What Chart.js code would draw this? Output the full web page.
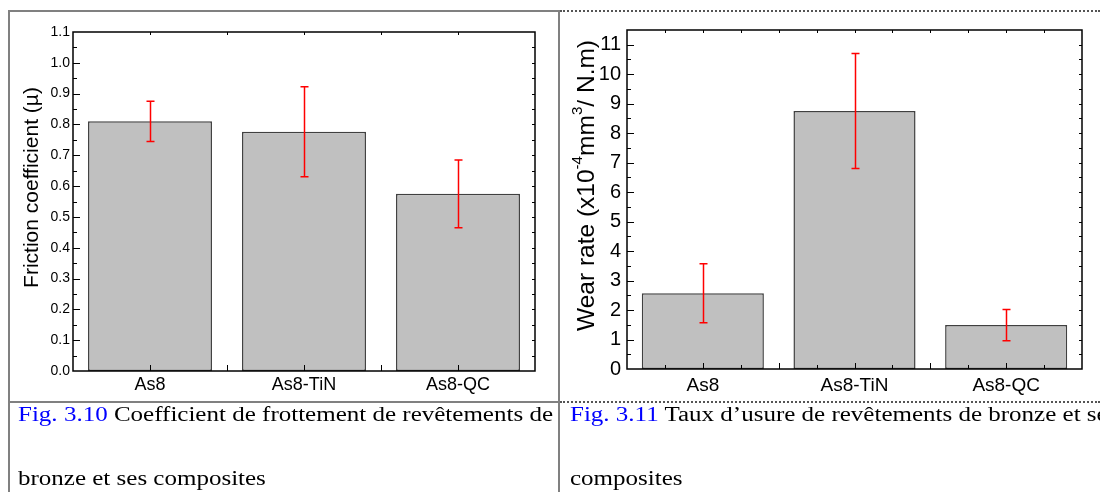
<!DOCTYPE html>
<html>
<head>
<meta charset="utf-8">
<script src="https://cdn.jsdelivr.net/npm/chart.js@4.4.1/dist/chart.umd.min.js"></script>
<style>
html, body { margin: 0; padding: 0; background: #fff; }
body { width: 1100px; height: 492px; position: relative; overflow: hidden; }
.ln { position: absolute; background: #808080; }
.dot { position: absolute; height: 0; border-top: 2px dotted #555; }
.box { position: absolute; }
.cap { position: absolute; font-family: 'Liberation Serif', 'Times New Roman', serif; font-size: 20px;
       line-height: 64px; color: #000; transform: scaleX(1.25); transform-origin: 0 0; text-align: justify; }
.cap span { color: #0000ff; }
</style>
</head>
<body>
<div class="ln" style="left:8px;top:10px;width:2px;height:482px"></div>
<div class="ln" style="left:8px;top:10px;width:551px;height:2px"></div>
<div class="ln" style="left:558px;top:10px;width:2px;height:482px"></div>
<div class="dot" style="left:560px;top:10px;width:540px"></div>
<div class="ln" style="left:8px;top:401px;width:551px;height:2px"></div>
<div class="dot" style="left:560px;top:401px;width:540px"></div>

<div class="box" style="left:10px;top:12px;width:548px;height:389px"><canvas id="friction-chart"></canvas></div>
<div class="box" style="left:561px;top:12px;width:539px;height:389px"><canvas id="wear-chart"></canvas></div>

<div class="cap" style="left:18px;top:382px;width:428px"><span>Fig. 3.10</span> Coefficient de frottement de revêtements de bronze et ses composites</div>
<div class="cap" style="left:570px;top:382px;white-space:nowrap"><span>Fig. 3.11</span> Taux d’usure de revêtements de bronze et ses<br>composites</div>

<script>
const categories = ['As8', 'As8-TiN', 'As8-QC'];

const frictionValues = [0.81, 0.776, 0.575];
const frictionErrors = [0.065, 0.146, 0.11];

const wearValues = [2.57, 8.75, 1.49];
const wearErrors = [1.0, 1.95, 0.53];

Chart.defaults.font.family = "'Liberation Sans', Arial, sans-serif";
Chart.defaults.color = '#000';

// error bars, frame box and inward ticks
const framePlugin = {
    id: 'frame',
    afterDatasetsDraw(chart, args, o) {
        const { ctx, chartArea: a, scales: { x, y } } = chart;
        const meta = chart.getDatasetMeta(0);
        const ds = chart.data.datasets[0];

        ctx.save();
        ctx.strokeStyle = '#ff0000';
        ctx.lineWidth = 1.5;
        meta.data.forEach((bar, i) => {
            const v = ds.data[i], e = ds.errors[i];
            const top = y.getPixelForValue(v + e), bot = y.getPixelForValue(v - e);
            const cx = Math.round(bar.x) + 0.5;
            ctx.beginPath();
            ctx.moveTo(cx, top); ctx.lineTo(cx, bot);
            ctx.moveTo(cx - 4, top); ctx.lineTo(cx + 4, top);
            ctx.moveTo(cx - 4, bot); ctx.lineTo(cx + 4, bot);
            ctx.stroke();
        });

        ctx.strokeStyle = '#000';
        ctx.lineWidth = 1;
        ctx.beginPath();
        const nMinor = Math.round(y.max / o.minor);
        const per = Math.round(o.major / o.minor);
        for (let k = 1; k < nMinor; k++) {
            const py = Math.round(y.getPixelForValue(k * o.minor)) + 0.5;
            ctx.moveTo(a.left, py); ctx.lineTo(a.left + (k % per === 0 ? 7 : 4), py);
            ctx.moveTo(a.right, py); ctx.lineTo(a.right - 3, py);
        }
        const nx = categories.length * o.xDiv;
        for (let k = 1; k < nx; k++) {
            const px = Math.round(x.getPixelForValue(-0.5 + k / o.xDiv)) + 0.5;
            const big = k % (o.xDiv / 2) === 0;
            ctx.moveTo(px, a.bottom); ctx.lineTo(px, a.bottom - (big ? 6 : 4));
            ctx.moveTo(px, a.top); ctx.lineTo(px, a.top + 3);
        }
        ctx.stroke();

        ctx.lineWidth = 1.5;
        ctx.strokeRect(a.left, a.top, a.right - a.left, a.bottom - a.top);
        ctx.restore();
    }
};

// rotated y title with superscripts
const titlePlugin = {
    id: 'ytitle',
    afterDraw(chart, args, o) {
        const { ctx, chartArea: a } = chart;
        const size = o.size, sup = size * 0.62;
        ctx.save();
        ctx.fillStyle = '#000';
        ctx.textBaseline = 'middle';
        ctx.textAlign = 'left';
        let total = 0;
        o.parts.forEach(p => {
            ctx.font = (p.sup ? sup : size) + "px 'Liberation Sans', Arial, sans-serif";
            p.w = ctx.measureText(p.text).width;
            total += p.w;
        });
        ctx.translate(o.x, (a.top + a.bottom) / 2 - 14);
        ctx.rotate(-Math.PI / 2);
        let cx = -total / 2;
        o.parts.forEach(p => {
            ctx.font = (p.sup ? sup : size) + "px 'Liberation Sans', Arial, sans-serif";
            ctx.fillText(p.text, cx, p.sup ? -size * 0.38 : 0);
            cx += p.w;
        });
        ctx.restore();
    }
};

function makeChart(id, values, errors, cfg) {
    return new Chart(document.getElementById(id), {
        type: 'bar',
        data: {
            labels: categories,
            datasets: [{
                data: values,
                errors: errors,
                backgroundColor: '#c0c0c0',
                borderColor: '#404040',
                borderWidth: 1.5,
                borderSkipped: false,
                barPercentage: 0.805,
                categoryPercentage: 1
            }]
        },
        options: {
            responsive: true,
            maintainAspectRatio: false,
            animation: false,
            layout: { padding: cfg.padding },
            plugins: {
                legend: { display: false },
                tooltip: { enabled: false },
                frame: cfg.frame,
                ytitle: cfg.title
            },
            scales: {
                x: {
                    grid: { display: false, drawTicks: false },
                    border: { display: false },
                    ticks: { font: { size: cfg.xFont }, padding: cfg.xPad, color: '#000' },
                    afterFit: s => { s.height = cfg.xHeight; }
                },
                y: {
                    min: 0,
                    max: cfg.yMax,
                    grid: { display: false, drawTicks: false },
                    border: { display: false },
                    ticks: {
                        stepSize: cfg.yStep,
                        includeBounds: false,
                        font: { size: cfg.yFont },
                        padding: cfg.yPad,
                        color: '#000',
                        callback: v => v.toFixed(cfg.yDec)
                    },
                    afterFit: s => { s.width = cfg.yWidth; }
                }
            }
        },
        plugins: [framePlugin, titlePlugin]
    });
}

makeChart('friction-chart', frictionValues, frictionErrors, {
    padding: { top: 20, right: 23, left: 0, bottom: 0 },
    yMax: 1.1, yStep: 0.1, yDec: 1, yFont: 14, yPad: 3, yWidth: 63,
    xFont: 18, xPad: 3, xHeight: 30,
    frame: { major: 0.1, minor: 0.05, xDiv: 2 },
    title: { x: 22.5, size: 21, parts: [{ text: 'Friction coefficient (\u00b5)' }] }
});

makeChart('wear-chart', wearValues, wearErrors, {
    padding: { top: 17, right: 18, left: 0, bottom: 0 },
    yMax: 11.5, yStep: 1, yDec: 0, yFont: 20, yPad: 6, yWidth: 66,
    xFont: 19, xPad: 5, xHeight: 32,
    frame: { major: 1, minor: 0.5, xDiv: 4 },
    title: { x: 26, size: 24.5, parts: [
        { text: 'Wear rate (x10' }, { text: '-4', sup: true }, { text: 'mm' },
        { text: '3', sup: true }, { text: '/ N.m)' }
    ] }
});
</script>
</body>
</html>
